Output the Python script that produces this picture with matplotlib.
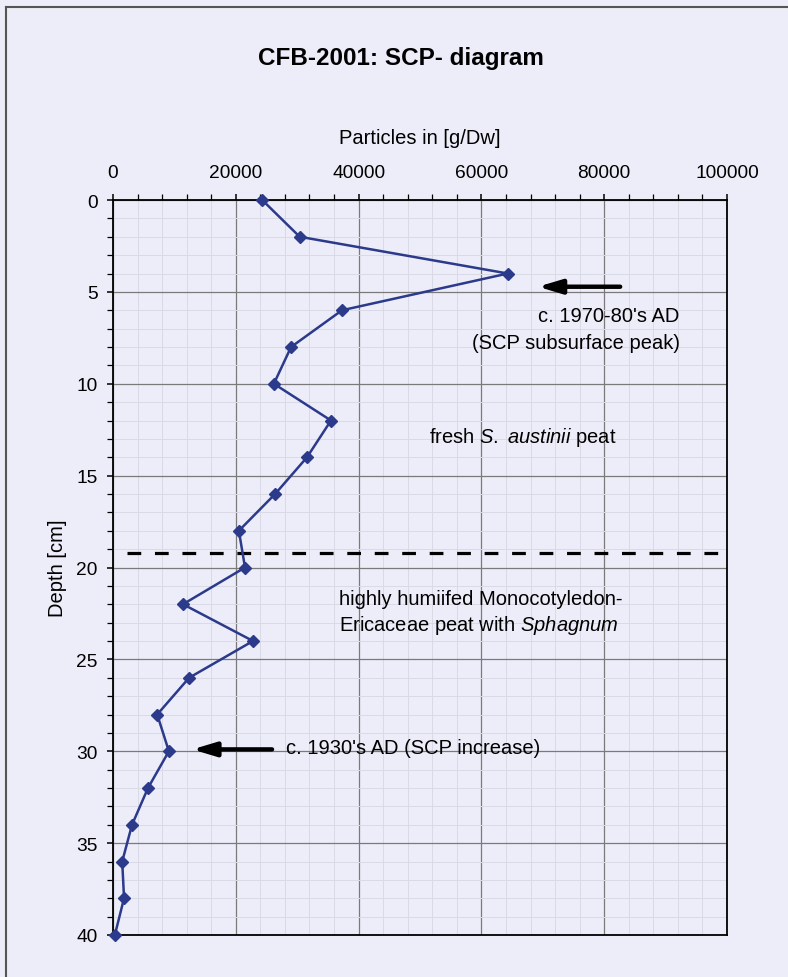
import matplotlib
matplotlib.use("Agg")
import matplotlib.pyplot as plt
from matplotlib.ticker import MultipleLocator
from matplotlib.lines import Line2D

plt.rcParams['font.family'] = ['Liberation Sans', 'DejaVu Sans']
plt.rcParams['mathtext.fontset'] = 'custom'
plt.rcParams['mathtext.rm'] = 'Liberation Sans'
plt.rcParams['mathtext.it'] = 'Liberation Sans:italic'

# SCP concentration profile
depth_cm = [0, 2, 4, 6, 8, 10, 12, 14, 16, 18, 20,
            22, 24, 26, 28, 30, 32, 34, 36, 38, 40]
particles = [24300, 30400, 64300, 37300, 29000, 26200, 35500, 31600, 26400, 20500, 21500,
             11400, 22800, 12400, 7200, 9100, 5700, 3100, 1500, 1800, 300]

x_ticks = [0, 20000, 40000, 60000, 80000, 100000]
y_ticks = [0, 5, 10, 15, 20, 25, 30, 35, 40]

boundary_depth = 19.2

bg = '#ededf9'
fig = plt.figure(figsize=(7.88, 9.78), dpi=100, facecolor=bg)
ax = fig.add_axes([113 / 788, 1 - 936 / 978, (727 - 113) / 788, (936 - 201) / 978])
ax.set_facecolor(bg)

# frame lines around the figure
fig.add_artist(Line2D([6 / 788, 6 / 788], [0, 1 - 8 / 978], transform=fig.transFigure,
                      color='#555555', lw=1.5))
fig.add_artist(Line2D([6 / 788, 1], [1 - 8 / 978, 1 - 8 / 978], transform=fig.transFigure,
                      color='#555555', lw=1.5))

ax.set_xlim(0, 100000)
ax.set_ylim(40, 0)
ax.xaxis.tick_top()
ax.xaxis.set_label_position('top')
ax.set_xticks(x_ticks)
ax.set_yticks(y_ticks)
ax.xaxis.set_minor_locator(MultipleLocator(4000))
ax.yaxis.set_minor_locator(MultipleLocator(1))

ax.grid(which='major', color='#7a7a7a', lw=0.9)
ax.grid(which='minor', color='#dadae6', lw=0.7)
ax.set_axisbelow(True)

for s in ax.spines.values():
    s.set_color('black')
    s.set_linewidth(1.3)

ax.tick_params(which='major', direction='out', length=4, width=1.1, labelsize=13.8, colors='black')
ax.tick_params(axis='x', which='major', pad=10)
ax.tick_params(axis='y', which='major', pad=7)
ax.tick_params(which='minor', direction='out', length=4, width=0.9)

ax.set_xlabel('Particles in [g/Dw]', fontsize=14.5, labelpad=15)
ax.set_ylabel('Depth [cm]', fontsize=14.5, labelpad=7)

ax.plot(particles, depth_cm, color='#2b3a8a', lw=1.8, marker='D', markersize=6.5,
        markerfacecolor='#2b3a8a', markeredgecolor='#2b3a8a', zorder=5, clip_on=False)

# peat boundary
ax.plot([2300, 100000], [boundary_depth, boundary_depth], color='black', lw=2.3,
        dashes=(4.3, 4.3), zorder=4)

arrow_style = dict(arrowstyle='-|>,head_length=1.4,head_width=0.42', color='black', lw=3.2,
                   shrinkA=0, shrinkB=0)
ax.annotate('', xy=(69200, 4.72), xytext=(82600, 4.72), arrowprops=arrow_style, zorder=6)
ax.annotate('', xy=(12900, 29.9), xytext=(25900, 29.9), arrowprops=arrow_style, zorder=6)

fs = 14.5
ax.text(92300, 6.3, "c. 1970-80's AD", fontsize=fs, ha='right', va='center')
ax.text(92300, 7.73, "(SCP subsurface peak)", fontsize=fs, ha='right', va='center')
ax.text(51500, 12.85, r"fresh $\mathit{S.}$ $\mathit{austinii}$ peat", fontsize=fs,
        ha='left', va='center')
ax.text(36800, 21.7, "highly humiifed Monocotyledon-", fontsize=fs, ha='left', va='center')
ax.text(36800, 23.1, r"Ericaceae peat with $\mathit{Sphagnum}$", fontsize=fs, ha='left',
        va='center')
ax.text(28200, 29.8, "c. 1930's AD (SCP increase)", fontsize=fs, ha='left', va='center')

fig.text(401 / 788, 1 - 58 / 978, 'CFB-2001: SCP- diagram', fontsize=17.5, fontweight='bold',
         ha='center', va='center')

fig.savefig('out.png', dpi=100, facecolor=bg)
